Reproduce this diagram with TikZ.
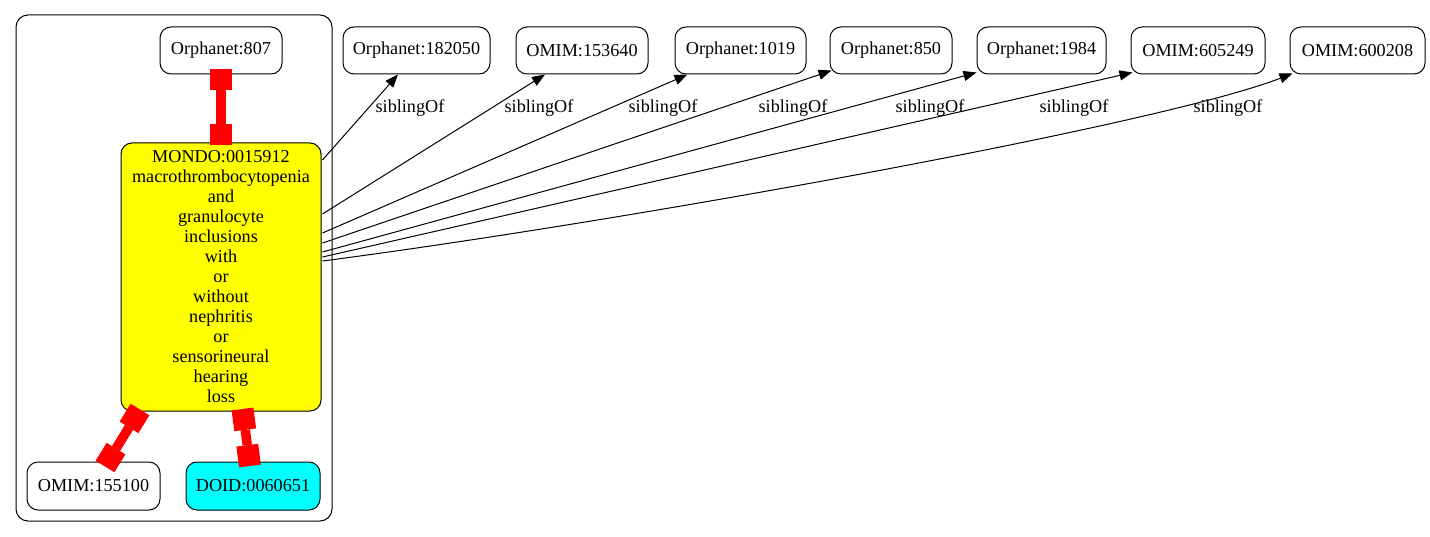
\documentclass[tikz,border=0pt]{standalone}
\usepackage{fontspec}
\setmainfont{Liberation Serif}
\usetikzlibrary{arrows.meta,calc}
\definecolor{gvyellow}{RGB}{255,255,0}
\definecolor{gvcyan}{RGB}{0,255,255}
\definecolor{gvred}{RGB}{255,0,0}
\begin{document}
\begin{tikzpicture}[x=1pt,y=-1pt,
 every node/.style={font=\fontsize{18.2}{20}\selectfont},
 nbox/.style={draw, rounded corners=11pt, line width=1pt, minimum height=47pt, inner sep=0pt, align=center},
 redlink/.style={draw=gvred, line width=9.5pt, {Square[length=21pt,width=22pt,line width=0pt]}-{Square[length=21pt,width=22pt,line width=0pt]}},
 sib/.style={draw, line width=1pt, -{Triangle[length=13pt,width=10pt]}},
 lbl/.style={inner sep=0pt}]
\useasboundingbox (0,0) rectangle (1430,537);
% cluster
\node[draw, rounded corners=12pt, line width=1pt, minimum width=316pt, minimum height=506pt, inner sep=0pt] (cluster) at (174,268) {};
% nodes in cluster
\node[nbox, minimum width=122pt] (o807) at (221,50.5) {Orphanet:807};
\node[nbox, fill=gvyellow, minimum width=200pt, minimum height=268pt] (mondo) at (221,277) {MONDO:0015912\\macrothrombocytopenia\\and\\granulocyte\\inclusions\\with\\or\\without\\nephritis\\or\\sensorineural\\hearing\\loss};
\node[nbox, minimum width=133pt, minimum height=48pt] (m155100) at (93.5,486) {OMIM:155100};
\node[nbox, fill=gvcyan, minimum width=134pt, minimum height=48pt] (doid) at (253,486) {DOID:0060651};
% top row
\node[nbox, minimum width=147pt] (o182050) at (416.5,50.5) {Orphanet:182050};
\node[nbox, minimum width=132pt] (m153640) at (582,50.5) {OMIM:153640};
\node[nbox, minimum width=131pt] (o1019) at (740.5,50.5) {Orphanet:1019};
\node[nbox, minimum width=122pt] (o850) at (891,50.5) {Orphanet:850};
\node[nbox, minimum width=129pt] (o1984) at (1041.5,50.5) {Orphanet:1984};
\node[nbox, minimum width=134pt] (m605249) at (1198,50.5) {OMIM:605249};
\node[nbox, minimum width=135pt] (m600208) at (1357.5,50.5) {OMIM:600208};
% red links
\draw[redlink] ($(o807.south)+(0,-5)$) -- ($(mondo.north)+(0,3)$);
\draw[redlink] ($(mondo.south)+(-81,-2)$) -- ($(m155100.north)+(11.5,5)$);
\draw[redlink] ($(mondo.south)+(21.5,-2.5)$) -- ($(doid.north)+(-3,4.5)$);
% siblingOf edges
\draw[sib] ($(mondo.east)+(1,-117)$) -- ($(o182050.south)+(-18.5,0)$);
\draw[sib] ($(mondo.east)+(1,-63)$) -- ($(m153640.south)+(-37,0)$);
\draw[sib] ($(mondo.east)+(1,-44)$) -- ($(o1019.south)+(-53,0)$);
\draw[sib] ($(mondo.east)+(1,-34)$) -- ($(o850.south west)+(2,-4)$);
\draw[sib] ($(mondo.east)+(1,-25)$) -- ($(o1984.south west)+(0,-2)$);
\draw[sib] ($(mondo.east)+(1,-20)$) -- ($(m605249.south west)+(2,-2)$);
\draw[sib] ($(mondo.east)+(1,-16)$) .. controls (622,222) and (1160,125) .. ($(m600208.south west)+(3,-1)$);
% labels
\node[lbl] (l1) at (410,108) {siblingOf};
\node[lbl] (l2) at (539,108) {siblingOf};
\node[lbl] (l3) at (663,108) {siblingOf};
\node[lbl] (l4) at (793,108) {siblingOf};
\node[lbl] (l5) at (930,108) {siblingOf};
\node[lbl] (l6) at (1074,108) {siblingOf};
\node[lbl] (l7) at (1228,108) {siblingOf};
\end{tikzpicture}
\end{document}
